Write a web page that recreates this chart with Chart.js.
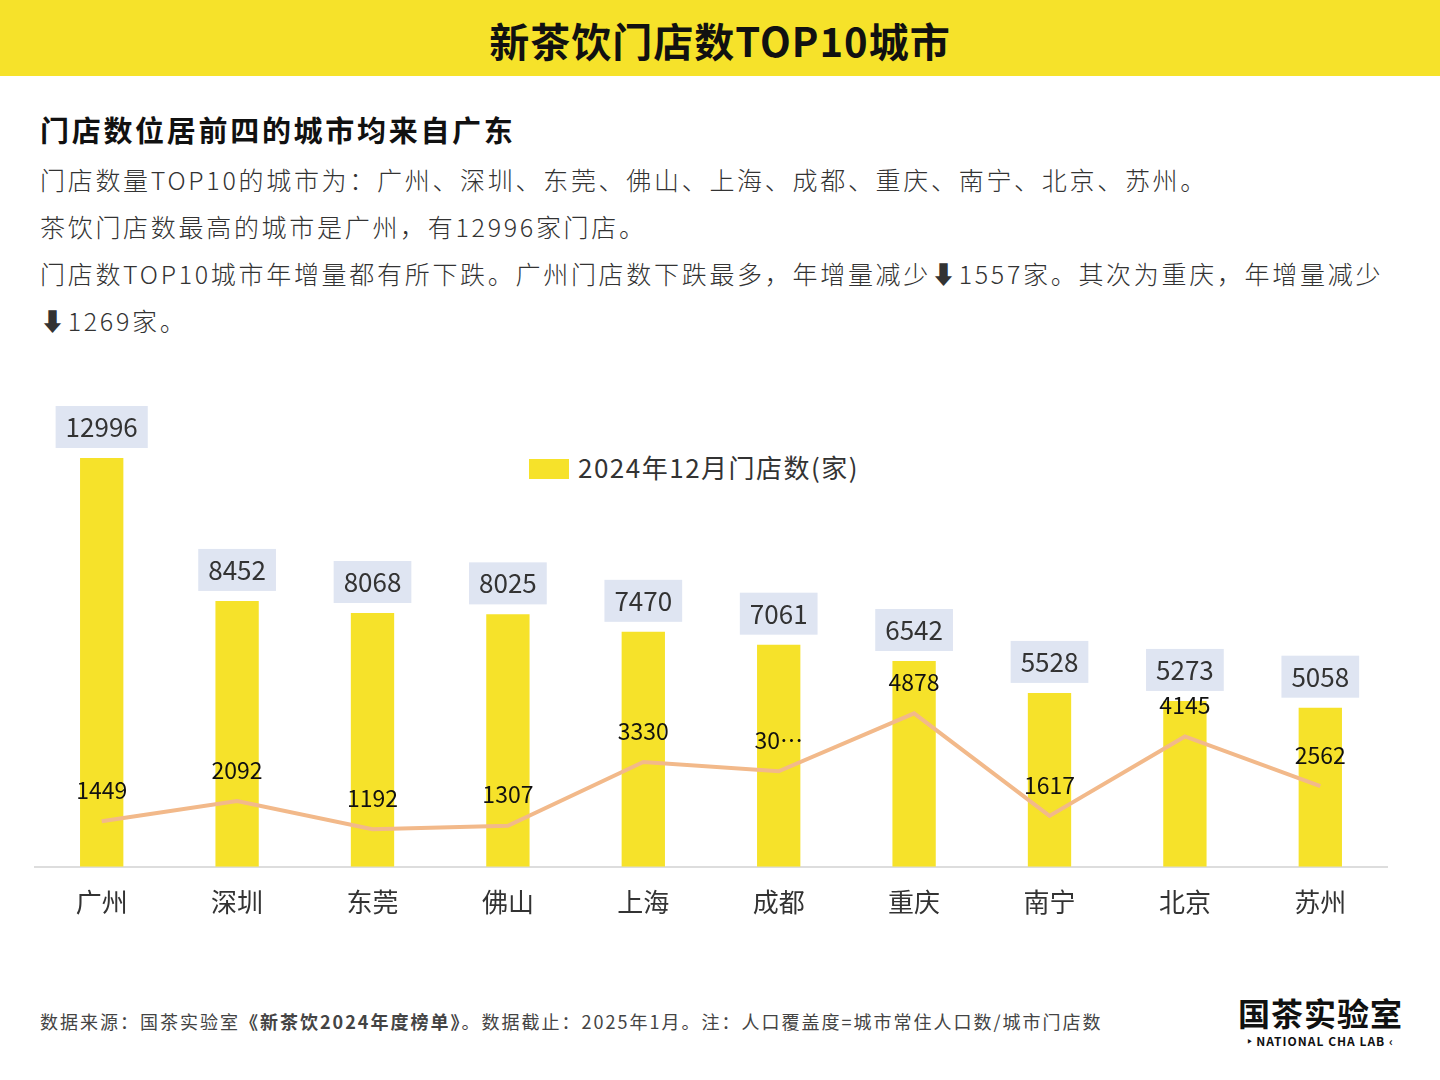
<!DOCTYPE html>
<html>
<head>
    <meta charset="utf-8">
    <title>新茶饮门店数TOP10城市</title>
    <script src="https://cdn.jsdelivr.net/npm/chart.js"></script>
    <style>
        body { margin: 0; width: 1440px; height: 1080px; background: #fff; font-family: "Noto Sans CJK SC", "Noto Sans", sans-serif; position: relative; overflow: hidden; }
        .banner { height: 76px; background: #f6e22a; text-align: center; font-size: 40px; font-weight: bold; line-height: 80px; color: #111; letter-spacing: 1px; }
        .sub { position: absolute; left: 40px; top: 108px; font-size: 29px; font-weight: bold; color: #111; letter-spacing: 2.7px; }
        .desc { position: absolute; left: 40px; top: 156px; width: 1380px; font-size: 25px; line-height: 47px; color: #333; letter-spacing: 2.7px; font-weight: 300; }
        .legend { position: absolute; left: 529px; top: 448px; font-size: 26px; color: #333; letter-spacing: 1.5px; }
        .legend span { display: inline-block; width: 40px; height: 20px; background: #f6e22a; margin-right: 9px; vertical-align: -1px; }
        #wrap { position: absolute; left: 34px; top: 400px; width: 1354px; height: 530px; }
        .foot { position: absolute; left: 40px; top: 1008px; font-size: 18px; color: #444; letter-spacing: 2px; }
        .logo { position: absolute; left: 1238px; top: 992px; text-align: center; }
        .logo .cn { font-size: 32px; font-weight: bold; letter-spacing: 1px; color: #111; line-height: 40px; }
        .logo .en { font-size: 12px; font-weight: bold; color: #111; letter-spacing: 1px; }
    </style>
</head>
<body>
    <div class="banner">新茶饮门店数TOP10城市</div>
    <div class="sub">门店数位居前四的城市均来自广东</div>
    <div class="desc">门店数量TOP10的城市为：广州、深圳、东莞、佛山、上海、成都、重庆、南宁、北京、苏州。<br>茶饮门店数最高的城市是广州，有12996家门店。<br>门店数TOP10城市年增量都有所下跌。广州门店数下跌最多，年增量减少⬇1557家。其次为重庆，年增量减少<br>⬇1269家。</div>
    <div class="legend"><span></span>2024年12月门店数(家)</div>
    <div id="wrap"><canvas id="chart"></canvas></div>
    <div class="foot">数据来源：国茶实验室<b>《新茶饮2024年度榜单》</b>。数据截止：2025年1月。注：人口覆盖度=城市常住人口数/城市门店数</div>
    <div class="logo"><div class="cn">国茶实验室</div><div class="en">‣ NATIONAL CHA LAB ‹</div></div>

    <script>
        const cities = ['广州', '深圳', '东莞', '佛山', '上海', '成都', '重庆', '南宁', '北京', '苏州'];
        const storeCounts = [12996, 8452, 8068, 8025, 7470, 7061, 6542, 5528, 5273, 5058];
        const lineValues = [1449, 2092, 1192, 1307, 3330, 3035, 4878, 1617, 4145, 2562];
        const lineLabels = ['1449', '2092', '1192', '1307', '3330', '30⋯', '4878', '1617', '4145', '2562'];

        const labelPlugin = {
            id: 'valueLabels',
            afterDatasetsDraw(chart) {
                const ctx = chart.ctx;
                ctx.save();
                ctx.textAlign = 'center';
                ctx.textBaseline = 'middle';
                ctx.font = '26px "Noto Sans CJK SC", "Noto Sans", sans-serif';
                chart.getDatasetMeta(1).data.forEach((bar, i) => {
                    const txt = String(storeCounts[i]);
                    const w = ctx.measureText(txt).width + 20;
                    const cy = bar.y - 31;
                    ctx.fillStyle = '#dfe5f2';
                    ctx.fillRect(bar.x - w / 2, cy - 21, w, 42);
                    ctx.fillStyle = '#333';
                    ctx.fillText(txt, bar.x, cy);
                });
                ctx.font = '23px "Noto Sans CJK SC", "Noto Sans", sans-serif';
                ctx.fillStyle = '#111';
                chart.getDatasetMeta(0).data.forEach((pt, i) => {
                    ctx.fillText(lineLabels[i], pt.x, pt.y - 31);
                });
                ctx.restore();
            }
        };

        new Chart(document.getElementById('chart'), {
            data: {
                labels: cities,
                datasets: [{
                    type: 'line',
                    data: lineValues,
                    borderColor: '#f2b98a',
                    borderWidth: 4,
                    pointRadius: 0,
                    tension: 0
                }, {
                    type: 'bar',
                    data: storeCounts,
                    backgroundColor: '#f6e22a',
                    categoryPercentage: 1,
                    barPercentage: 0.32
                }]
            },
            options: {
                responsive: true,
                maintainAspectRatio: false,
                animation: false,
                layout: { padding: { top: 58 } },
                plugins: { legend: { display: false }, tooltip: { enabled: false } },
                scales: {
                    x: {
                        grid: { display: false },
                        border: { color: '#ddd', width: 2 },
                        ticks: { color: '#333', font: { size: 26, family: '"Noto Sans CJK SC"' }, padding: 12 }
                    },
                    y: { display: false, min: 0, max: 12996 }
                }
            },
            plugins: [labelPlugin]
        });
    </script>
</body>
</html>
